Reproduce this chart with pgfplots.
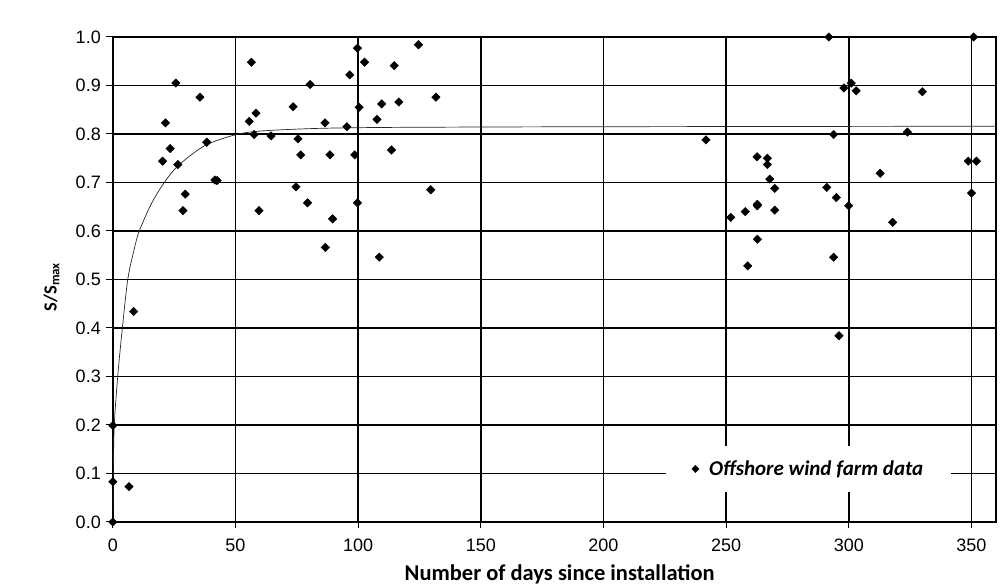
\documentclass[border=0pt]{standalone}
\usepackage{fontspec}
\setmainfont{Liberation Sans}
\newfontfamily\calibri{Carlito}
\usepackage{pgfplots}
\pgfplotsset{compat=1.18}
\begin{document}
\begin{tikzpicture}[x=1pt,y=1pt]
\useasboundingbox (0,0) rectangle (1001,586);
\begin{axis}[
    at={(112.8pt,64pt)}, anchor=south west,
    scale only axis, width=883.2pt, height=485pt,
    xmin=0, xmax=360, ymin=0, ymax=1,
    xtick={0,50,100,150,200,250,300,350},
    ytick={0,0.1,0.2,0.3,0.4,0.5,0.6,0.7,0.8,0.9,1.0},
    /pgf/number format/assume math mode=true,
    ticklabel style={font=\fontsize{18}{21}\selectfont},
    xticklabel style={yshift=-7pt},
    yticklabel style={/pgf/number format/fixed, /pgf/number format/fixed zerofill,
        /pgf/number format/precision=1, xshift=-2pt},
    tick align=outside, tick pos=left,
    major tick length=6.5pt,
    tick style={black, line width=1pt},
    grid=major, grid style={black, line width=1.4pt},
    axis line style={line width=2pt},
    xlabel={\calibri\bfseries Number of days since installation},
    ylabel={\calibri\bfseries S/S\textsubscript{max}},
    xlabel style={at={(axis description cs:0.506,-0.1196)}, anchor=base, font=\fontsize{22.5}{26}\selectfont},
    ylabel style={at={(axis description cs:-0.0635,0.4845)}, anchor=base, font=\fontsize{18.5}{22}\selectfont},
    legend style={at={(axis description cs:0.7877,0.1093)}, anchor=center, draw=none, fill=white,
        inner xsep=26pt, inner ysep=13pt,
        font=\calibri\bfseries\itshape\fontsize{21}{24}\selectfont},
    legend image post style={mark size=2.6pt},
]
% fitted curve
\addplot[smooth, no marks, black!85, line width=0.7pt, forget plot] coordinates {
    (0,0) (0.2,0.1) (0.6,0.2) (2.0,0.3) (3.9,0.4) (6.1,0.5) (8.6,0.56) (10.8,0.6)
    (15.8,0.657) (21,0.7) (26.7,0.735) (37.5,0.776) (49.7,0.798) (60,0.806)
    (80,0.811) (100,0.813) (130,0.814) (200,0.815) (360,0.816)
};
% measurements
\addplot[only marks, mark=square*, mark size=3pt, mark options={rotate=45, fill=black, draw=black}] coordinates {
    (0,0.000) (0,0.083) (0,0.199) (6.6,0.073) (8.5,0.434)
    (20.3,0.744) (21.5,0.823) (23.4,0.770) (25.7,0.905) (26.5,0.737)
    (28.6,0.642) (29.5,0.676) (35.5,0.876) (38.3,0.783) (41.6,0.705) (42.5,0.704)
    (55.6,0.826) (56.5,0.948) (57.6,0.799) (58.4,0.843) (59.6,0.642) (64.5,0.796)
    (73.5,0.856) (74.7,0.691) (75.5,0.790) (76.6,0.757) (79.4,0.658) (80.4,0.902)
    (86.5,0.823) (86.6,0.566) (88.5,0.757) (89.6,0.625) (95.4,0.815) (96.6,0.922)
    (98.6,0.757) (99.7,0.977) (99.7,0.658) (100.4,0.855) (102.6,0.948) (107.7,0.830)
    (108.6,0.546) (109.6,0.862) (113.6,0.767) (114.7,0.941) (116.6,0.866)
    (124.6,0.984) (129.6,0.685) (131.7,0.876)
    (241.8,0.788) (251.9,0.628) (257.8,0.640) (258.8,0.528) (262.6,0.753)
    (262.7,0.655) (262.7,0.652) (262.7,0.583) (266.8,0.750) (266.8,0.737)
    (267.8,0.707) (269.8,0.688) (269.8,0.643) (291.0,0.690) (291.9,1.000)
    (293.8,0.799) (293.8,0.546) (294.9,0.669) (296.0,0.384) (298.0,0.895)
    (299.9,0.652) (301.0,0.905) (303.0,0.889) (312.8,0.719) (317.9,0.618)
    (323.9,0.804) (330.0,0.887) (348.7,0.744) (350.0,0.678) (350.9,1.000)
    (352.0,0.744)
};
\addlegendentry{\hspace{8pt}Offshore wind farm data}
\end{axis}
\end{tikzpicture}
\end{document}
